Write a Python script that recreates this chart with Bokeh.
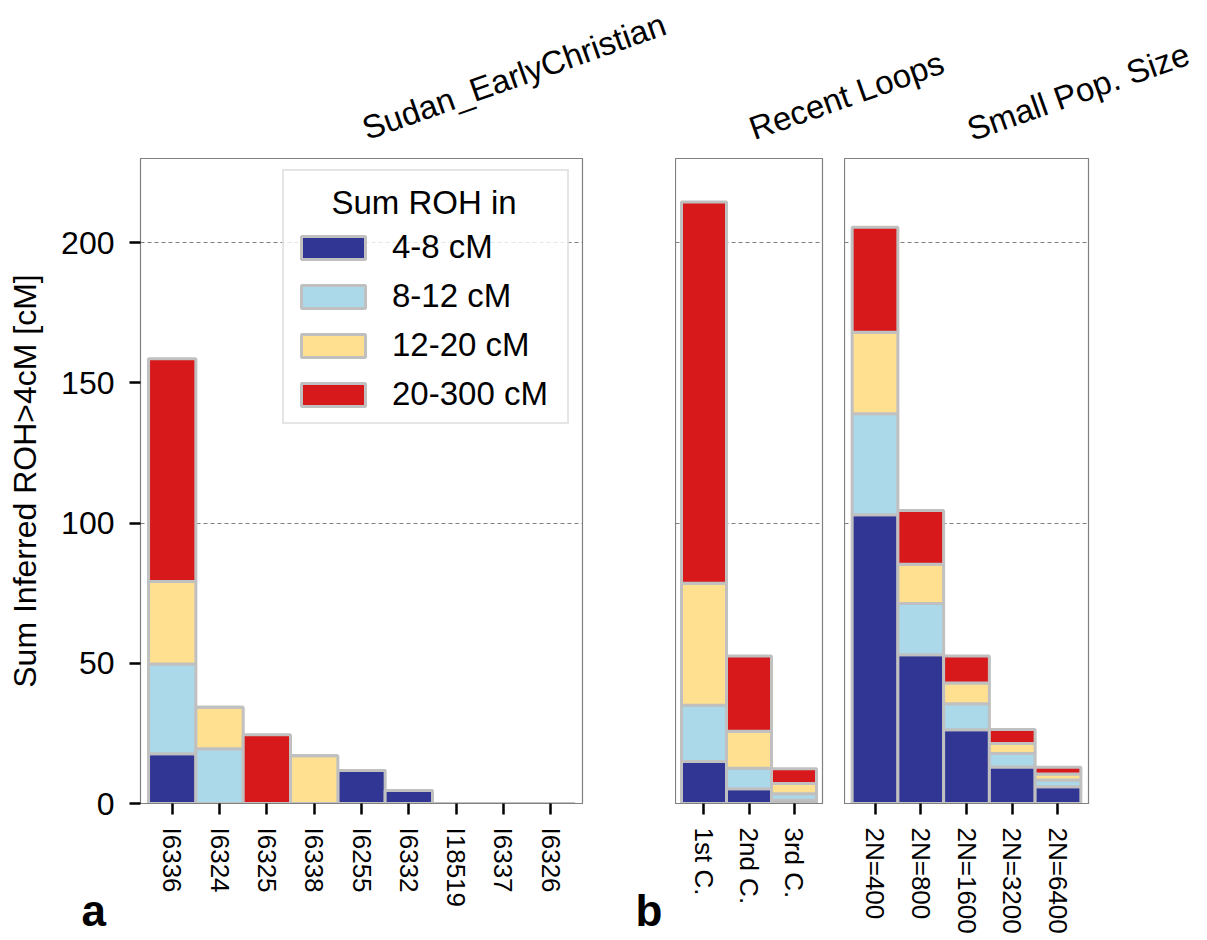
import math
from bokeh.plotting import figure
from bokeh.models import ColumnDataSource, FixedTicker, Label, Range1d
from bokeh.layouts import row, column
from bokeh.embed import file_html
from bokeh.resources import INLINE

FONT = "Liberation Sans"

# ---- data ----
bins = ["4-8 cM", "8-12 cM", "12-20 cM", "20-300 cM"]
colors = ["#313695", "#abd9e9", "#fee090", "#d7191c"]
legend_title = "Sum ROH in"

a_names = ["I6336", "I6324", "I6325", "I6338", "I6255", "I6332", "I18519", "I6337", "I6326"]
a_4_8 = [17.7, 0, 0, 0, 11.8, 4.6, 0, 0, 0]
a_8_12 = [32.0, 19.5, 0, 0, 0, 0, 0, 0, 0]
a_12_20 = [29.5, 14.8, 0, 17.0, 0, 0, 0, 0, 0]
a_20_300 = [79.4, 0, 24.5, 0, 0, 0, 0, 0, 0]

b1_names = ["1st C.", "2nd C.", "3rd C."]
b1_4_8 = [15.0, 5.3, 1.2]
b1_8_12 = [20.0, 7.3, 2.3]
b1_12_20 = [43.5, 13.2, 3.6]
b1_20_300 = [136.0, 26.8, 5.3]

b2_names = ["2N=400", "2N=800", "2N=1600", "2N=3200", "2N=6400"]
b2_4_8 = [103.0, 53.0, 26.3, 13.0, 6.0]
b2_8_12 = [36.0, 18.3, 9.3, 4.8, 2.4]
b2_12_20 = [29.0, 14.0, 7.4, 3.6, 2.1]
b2_20_300 = [37.5, 19.2, 9.6, 5.0, 2.4]

y_ticks = [0, 50, 100, 150, 200]
grid_ticks = [100, 200]

titles = ["Sudan_EarlyChristian", "Recent Loops", "Small Pop. Size"]
panel_letters = ["a", "b"]

FRAME_H = 645
TOP = 158
BOTTOM = 137


def make_panel(names, s1, s2, s3, s4, frame_w, xr, left, right, show_y, legend):
    n = len(names)
    src = ColumnDataSource(dict(x=list(range(n)), c1=s1, c2=s2, c3=s3, c4=s4))
    p = figure(frame_width=frame_w, frame_height=FRAME_H,
               x_range=xr, y_range=(0, 230),
               min_border_left=left, min_border_right=right,
               min_border_top=TOP, min_border_bottom=BOTTOM,
               output_backend="svg", toolbar_location=None)
    kw = {}
    if legend:
        kw["legend_label"] = bins
    p.vbar_stack(["c1", "c2", "c3", "c4"], x="x", width=1.0, source=src,
                 fill_color=colors, line_color="#c0c0c0", line_width=3, **kw)
    p.background_fill_color = "white"
    p.border_fill_color = "white"
    p.outline_line_color = "#808080"
    p.outline_line_width = 1.2
    p.xgrid.visible = False
    p.ygrid.ticker = FixedTicker(ticks=grid_ticks)
    p.ygrid.grid_line_color = "#808080"
    p.ygrid.grid_line_dash = "4 3"
    p.ygrid.grid_line_width = 1

    xa = p.xaxis[0]
    xa.ticker = FixedTicker(ticks=list(range(n)))
    xa.major_label_overrides = {i: nm for i, nm in enumerate(names)}
    xa.major_label_orientation = -math.pi / 2
    xa.major_label_text_font = FONT
    xa.major_label_text_font_size = "26px"
    xa.major_label_text_color = "black"
    xa.major_label_standoff = 13
    xa.major_tick_out = 11
    xa.major_tick_in = 0
    xa.major_tick_line_width = 2.5
    xa.major_tick_line_color = "black"
    xa.minor_tick_line_color = None
    xa.axis_line_color = "#808080"

    ya = p.yaxis[0]
    if show_y:
        ya.ticker = FixedTicker(ticks=y_ticks)
        ya.axis_label = "Sum Inferred ROH>4cM [cM]"
        ya.axis_label_text_font = FONT
        ya.axis_label_text_font_size = "32px"
        ya.axis_label_text_font_style = "normal"
        ya.axis_label_text_color = "black"
        ya.axis_label_standoff = 15
        ya.major_label_text_font = FONT
        ya.major_label_text_font_size = "32px"
        ya.major_label_text_color = "black"
        ya.major_label_standoff = 15
        ya.major_tick_out = 11
        ya.major_tick_in = 0
        ya.major_tick_line_width = 2.5
        ya.major_tick_line_color = "black"
        ya.minor_tick_line_color = None
        ya.axis_line_color = "#808080"
    else:
        ya.visible = False

    if legend:
        leg = p.legend[0]
        leg.location = (142, 379)
        # title row is reserved here; the centred title text is drawn on the overlay
        leg.title = "\u00a0"
        leg.title_text_font = FONT
        leg.title_text_font_size = "33px"
        leg.title_text_font_style = "normal"
        leg.title_standoff = 10
        leg.label_text_font = FONT
        leg.label_text_font_size = "33px"
        leg.label_text_color = "black"
        leg.glyph_width = 80
        leg.glyph_height = 29
        leg.label_standoff = 19
        leg.label_width = 166
        leg.spacing = 11
        leg.padding = 9
        leg.margin = 0
        leg.border_line_color = "#cccccc"
        leg.border_line_width = 2.5
        leg.background_fill_alpha = 0.8
    return p


pa = make_panel(a_names, a_4_8, a_8_12, a_12_20, a_20_300, 442, (-0.67, 8.67), 140, 93, True, True)
pb1 = make_panel(b1_names, b1_4_8, b1_8_12, b1_12_20, b1_20_300, 147, (-0.633, 2.633), 0, 22, False, False)
pb2 = make_panel(b2_names, b2_4_8, b2_8_12, b2_12_20, b2_20_300, 244, (-0.667, 4.667), 0, 12, False, False)

# transparent overlay (page pixel coordinates) for texts lying outside the panel frames
ov = figure(width=1207, height=940, x_range=Range1d(0, 1207), y_range=Range1d(940, 0),
            min_border=0, output_backend="svg", toolbar_location=None,
            margin=(-940, 0, 0, 0))
ov.axis.visible = False
ov.grid.visible = False
ov.outline_line_color = None
ov.background_fill_alpha = 0
ov.border_fill_alpha = 0

for (tx, ty), t in zip([(363, 129), (750, 129), (968, 130)], titles):
    ov.add_layout(Label(x=tx, y=ty, text=t, angle=19.5, angle_units="deg",
                        text_font=FONT, text_font_size="33px", text_color="black",
                        text_align="left", text_baseline="alphabetic"))

ov.add_layout(Label(x=423.5, y=202, text=legend_title, text_font=FONT, text_font_size="33px",
                    text_color="black", text_align="center", text_baseline="alphabetic"))

for (lx, ly), t in zip([(81, 910), (635, 910)], panel_letters):
    ov.add_layout(Label(x=lx, y=ly, text=t, text_font=FONT, text_font_size="44px",
                        text_font_style="bold", text_color="black",
                        text_align="left", text_baseline="alphabetic"))

layout = column(row(pa, pb1, pb2), ov)
open("out.html", "w").write(file_html(layout, INLINE))
